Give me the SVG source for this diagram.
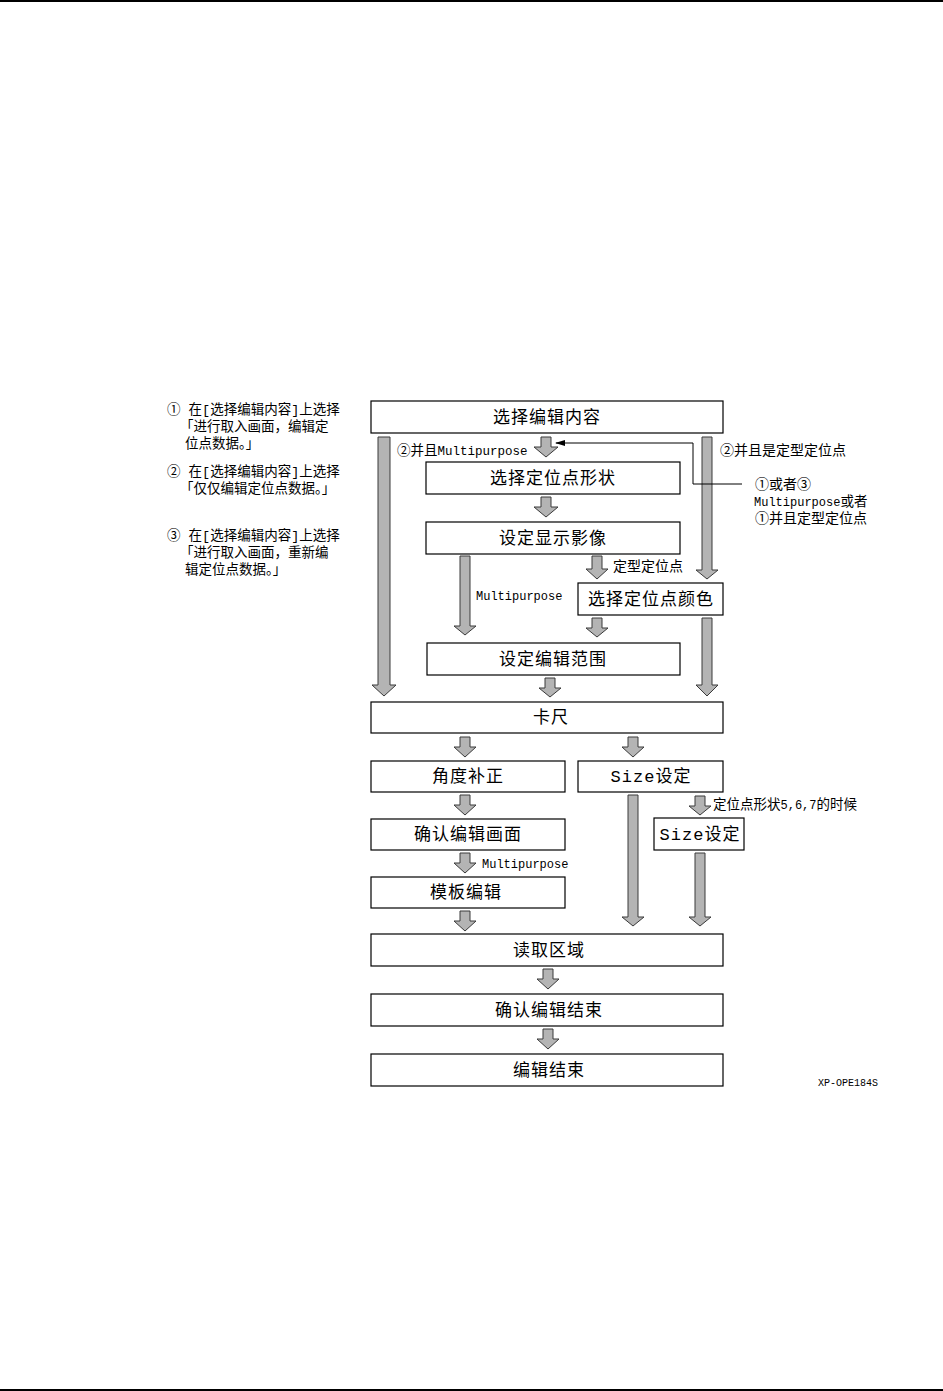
<svg xmlns="http://www.w3.org/2000/svg" width="943" height="1391" viewBox="0 0 943 1391">
<defs>
<style>
.box{fill:#fff;stroke:#000;stroke-width:1.2}
.bt{font-family:"Liberation Mono","Noto Sans CJK SC",monospace;font-size:17px;letter-spacing:1px;text-anchor:middle;fill:#000}
.lb{font-family:"Liberation Mono","Noto Sans CJK SC",monospace;font-size:13.5px;fill:#000}
.lt{font-size:12.5px}
.nt{font-family:"Liberation Mono","Noto Sans CJK SC",monospace;font-size:13.5px;fill:#000}
.ar{fill:#b4b4b4;stroke:#3a3a3a;stroke-width:1}
.ln{fill:none;stroke:#000;stroke-width:1}
</style>
<marker id="ah" markerWidth="10" markerHeight="6" refX="9" refY="3" orient="auto" markerUnits="userSpaceOnUse">
<path d="M10,3 L0,0 L0,6 Z" fill="#000"/>
</marker>
</defs>
<rect x="0" y="0" width="943" height="2" fill="#000"/>
<rect x="0" y="1389" width="943" height="2" fill="#000"/>

<g id="notes">
<text class="nt" x="167" y="414">① 在[选择编辑内容]上选择</text>
<text class="nt" x="180" y="431">「进行取入画面，编辑定</text>
<text class="nt" x="185" y="448">位点数据。」</text>
<text class="nt" x="167" y="476">② 在[选择编辑内容]上选择</text>
<text class="nt" x="180" y="493">「仅仅编辑定位点数据。」</text>
<text class="nt" x="167" y="540">③ 在[选择编辑内容]上选择</text>
<text class="nt" x="180" y="557">「进行取入画面，重新编</text>
<text class="nt" x="185" y="574">辑定位点数据。」</text>
</g>

<g id="connectors">
<path class="ar" d="M378,437H390V685H396L384,696L372,685H378Z"/>
<path class="ar" d="M541,437H551V447H558L546,457L534,447H541Z"/>
<path class="ar" d="M541,497H551V507H558L546,517L534,507H541Z"/>
<path class="ar" d="M702,437H712V570H718L707,579L696,570H702Z"/>
<path class="ar" d="M702,618H712V685H718L707,696L696,685H702Z"/>
<path class="ar" d="M460,556H470V626H476L465,635L454,626H460Z"/>
<path class="ar" d="M592,556H602V569H608L597,579L586,569H592Z"/>
<path class="ar" d="M592,618H602V628H608L597,637L586,628H592Z"/>
<path class="ar" d="M545,678H555V688H561L550,697L539,688H545Z"/>
<path class="ar" d="M460,737H470V747H476L465,757L454,747H460Z"/>
<path class="ar" d="M628,737H638V747H644L633,757L622,747H628Z"/>
<path class="ar" d="M460,795H470V805H476L465,815L454,805H460Z"/>
<path class="ar" d="M460,853H470V863H476L465,873L454,863H460Z"/>
<path class="ar" d="M460,911H470V921H476L465,931L454,921H460Z"/>
<path class="ar" d="M628,795H638V917H644L633,926L622,917H628Z"/>
<path class="ar" d="M695,796H705V806H711L700,815L689,806H695Z"/>
<path class="ar" d="M695,853H705V917H711L700,926L689,917H695Z"/>
<path class="ar" d="M543,969H553V979H559L548,989L537,979H543Z"/>
<path class="ar" d="M543,1029H553V1039H559L548,1049L537,1039H543Z"/>
<path class="ln" d="M742,484H693V443H556" marker-end="url(#ah)"/>
<text class="lb" x="397" y="455">②并且<tspan class="lt">Multipurpose</tspan></text>
<text class="lb" x="720" y="455" style="font-size:14px">②并且是定型定位点</text>
<text class="lb" x="755" y="489" style="font-size:14px">①或者③</text>
<text class="lb" x="754" y="506"><tspan class="lt" style="font-size:12px">Multipurpose</tspan>或者</text>
<text class="lb" x="755" y="523" style="font-size:14px">①并且定型定位点</text>
<text class="lb" x="613" y="571" style="font-size:14px">定型定位点</text>
<text class="lb" x="476" y="600" style="font-size:12px">Multipurpose</text>
<text class="lb" x="482" y="868" style="font-size:12px">Multipurpose</text>
<text class="lb" x="713" y="809">定位点形状<tspan class="lt" style="font-size:12px">5,6,7</tspan>的时候</text>
</g>

<g id="n1"><rect class="box" x="371" y="401" width="352" height="32"/><text class="bt" x="547" y="423">选择编辑内容</text></g>
<g id="n2"><rect class="box" x="426" y="462" width="254" height="32"/><text class="bt" x="553" y="484">选择定位点形状</text></g>
<g id="n3"><rect class="box" x="426" y="522" width="254" height="32"/><text class="bt" x="553" y="544">设定显示影像</text></g>
<g id="n4"><rect class="box" x="578" y="583" width="145" height="32"/><text class="bt" x="651" y="605">选择定位点颜色</text></g>
<g id="n5"><rect class="box" x="427" y="643" width="253" height="32"/><text class="bt" x="553" y="665">设定编辑范围</text></g>
<g id="n6"><rect class="box" x="371" y="702" width="352" height="31"/><text class="bt" x="551" y="723">卡尺</text></g>
<g id="n7"><rect class="box" x="371" y="761" width="194" height="31"/><text class="bt" x="468" y="782">角度补正</text></g>
<g id="n8"><rect class="box" x="578" y="761" width="145" height="31"/><text class="bt" x="651" y="782">Size设定</text></g>
<g id="n9"><rect class="box" x="371" y="819" width="194" height="31"/><text class="bt" x="468" y="840">确认编辑画面</text></g>
<g id="n10"><rect class="box" x="654" y="818" width="90" height="32"/><text class="bt" x="700" y="840">Size设定</text></g>
<g id="n11"><rect class="box" x="371" y="877" width="194" height="31"/><text class="bt" x="466" y="898">模板编辑</text></g>
<g id="n12"><rect class="box" x="371" y="934" width="352" height="32"/><text class="bt" x="549" y="956">读取区域</text></g>
<g id="n13"><rect class="box" x="371" y="994" width="352" height="32"/><text class="bt" x="549" y="1016">确认编辑结束</text></g>
<g id="n14"><rect class="box" x="371" y="1054" width="352" height="32"/><text class="bt" x="549" y="1076">编辑结束</text></g>

<text x="818" y="1086" style="font-family:'Liberation Mono',monospace;font-size:10px;fill:#000">XP-OPE184S</text>
</svg>
